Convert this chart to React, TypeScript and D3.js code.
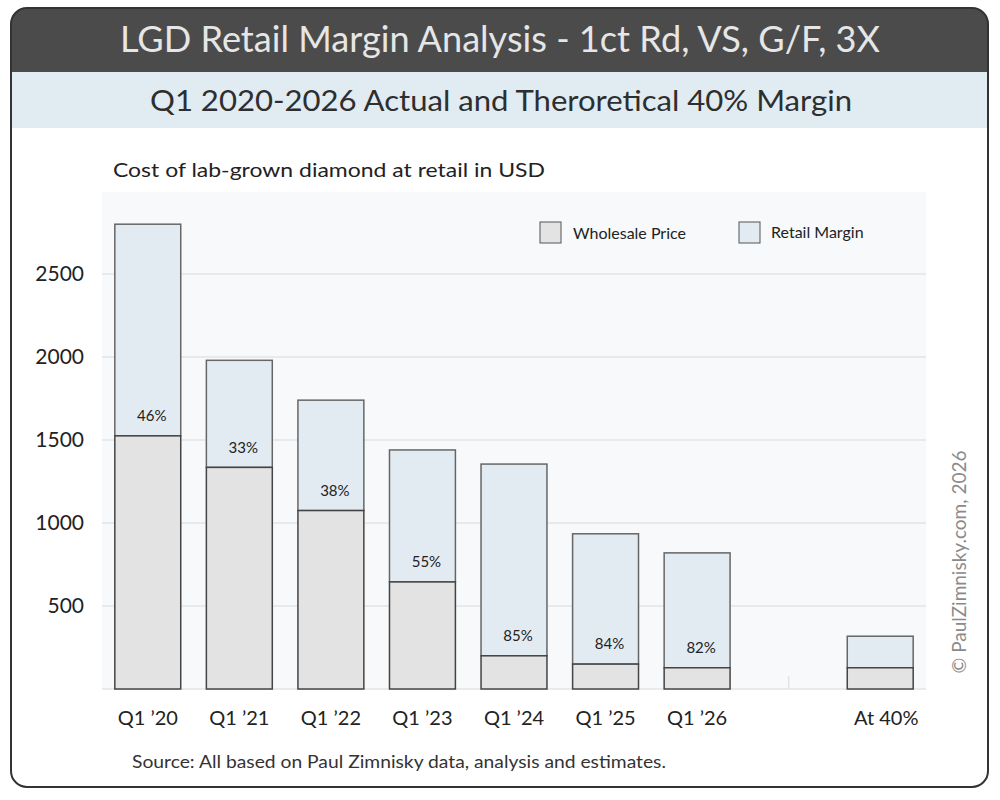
import React from "react";
import * as d3 from "d3";

// values in USD
const categories = ["Q1 '20", "Q1 '21", "Q1 '22", "Q1 '23", "Q1 '24", "Q1 '25", "Q1 '26", "gap", "At 40%"];
const wholesale = [1525, 1335, 1075, 645, 200, 150, 128, null, 128];
const retail = [2800, 1980, 1740, 1440, 1355, 935, 820, null, 318];
const marginLabels = ["46%", "33%", "38%", "55%", "85%", "84%", "82%", "", ""];
const yTicks = [500, 1000, 1500, 2000, 2500];

const W = 1000;
const H = 800;
const plotLeft = 102;
const plotRight = 926;
const plotTop = 192;
const plotBottom = 689;

export default function App() {
  const x = d3.scaleBand<string>()
    .domain(categories)
    .range([plotLeft, plotRight])
    .paddingInner(0.28)
    .paddingOuter(0.14);

  const y = d3.scaleLinear()
    .domain([0, 2500])
    .range([plotBottom, plotBottom - 415]);

  const font = "Lato, 'Open Sans', sans-serif";
  const gridTicks = [0, ...yTicks];

  return (
    <div style={{ position: "absolute", left: 0, top: 0 }}>
      <svg width={W} height={H} style={{ display: "block", background: "#fff" }}>
        <defs>
          <clipPath id="frame">
            <rect x={11} y={8} width={977} height={779} rx={16} />
          </clipPath>
        </defs>

        {/* header bands */}
        <g clipPath="url(#frame)">
          <rect x={11} y={8} width={977} height={64} fill="#4b4b4b" />
          <rect x={11} y={72} width={977} height={56} fill="#e0ebf2" />
        </g>
        <rect x={11} y={8} width={977} height={779} rx={16} fill="none" stroke="#333" strokeWidth={2} />

        <text x={500} y={52} textAnchor="middle" fill="#e6e6e6" fontFamily={font}
          fontSize={36} textLength={760} lengthAdjust="spacingAndGlyphs">
          LGD Retail Margin Analysis - 1ct Rd, VS, G/F, 3X
        </text>
        <text x={501} y={111} textAnchor="middle" fill="#2e2e2e" fontFamily={font}
          fontSize={29} textLength={702} lengthAdjust="spacingAndGlyphs">
          Q1 2020-2026 Actual and Theroretical 40% Margin
        </text>

        <text x={113} y={177} fill="#222" fontFamily={font} fontSize={20}
          textLength={432} lengthAdjust="spacingAndGlyphs">
          Cost of lab-grown diamond at retail in USD
        </text>

        {/* plot background + grid */}
        <rect x={plotLeft} y={plotTop} width={plotRight - plotLeft} height={plotBottom - plotTop} fill="#f7f9fa" />
        {gridTicks.map(t => (
          <line key={t} x1={plotLeft} x2={plotRight} y1={y(t)} y2={y(t)} stroke="#e2e5e8" strokeWidth={1.5} />
        ))}
        {yTicks.map(t => (
          <text key={t} x={84} y={y(t)} dy="0.35em" textAnchor="end" fill="#222"
            fontFamily={font} fontSize={21}>
            {t}
          </text>
        ))}

        {/* tick marks (only visible where no bar covers them) */}
        {categories.map(c => (
          <line key={c} x1={x(c)! + x.bandwidth() / 2} x2={x(c)! + x.bandwidth() / 2}
            y1={plotBottom - 13} y2={plotBottom} stroke="#e2e5e8" strokeWidth={1.5} />
        ))}

        {/* legend */}
        <rect x={540} y={222} width={21} height={21} fill="#e3e3e3" stroke="#555" strokeWidth={1} />
        <text x={573} y={233} dy="0.35em" fill="#222" fontFamily={font} fontSize={16}>Wholesale Price</text>
        <rect x={739} y={222} width={21} height={21} fill="#e3ebf2" stroke="#555" strokeWidth={1} />
        <text x={771} y={232} dy="0.35em" fill="#222" fontFamily={font} fontSize={16}>Retail Margin</text>

        {/* bars */}
        {categories.map((c, i) => {
          const w = wholesale[i];
          const r = retail[i];
          if (w == null || r == null) return null;
          const bx = x(c)!;
          const bw = x.bandwidth();
          return (
            <g key={c}>
              <rect x={bx} y={y(r)} width={bw} height={y(w) - y(r)} fill="#e3ebf2" stroke="#666" strokeWidth={1.5} />
              <rect x={bx} y={y(w)} width={bw} height={y(0) - y(w)} fill="#e3e3e3" stroke="#444" strokeWidth={1.5} />
              {marginLabels[i] && (
                <text x={bx + bw / 2 + 4} y={y(w) - 20} dy="0.35em" textAnchor="middle" fill="#222"
                  fontFamily={font} fontSize={15}>
                  {marginLabels[i]}
                </text>
              )}
            </g>
          );
        })}

        {/* x labels */}
        {categories.map(c => c === "gap" ? null : (
          <text key={c} x={x(c)! + x.bandwidth() / 2 + (c === "At 40%" ? 6 : 0)} y={718} dy="0.35em"
            textAnchor="middle" fill="#222" fontFamily={font} fontSize={20}>
            {c.replace("'", "\u2019")}
          </text>
        ))}

        <text x={132} y={768} fill="#333" fontFamily={font} fontSize={17}
          textLength={534} lengthAdjust="spacingAndGlyphs">
          Source: All based on Paul Zimnisky data, analysis and estimates.
        </text>

        <text transform="translate(966,562) rotate(-90)" textAnchor="middle" fill="#8a8a8a"
          fontFamily={font} fontSize={19}>
          © PaulZimnisky.com, 2026
        </text>
      </svg>
    </div>
  );
}
